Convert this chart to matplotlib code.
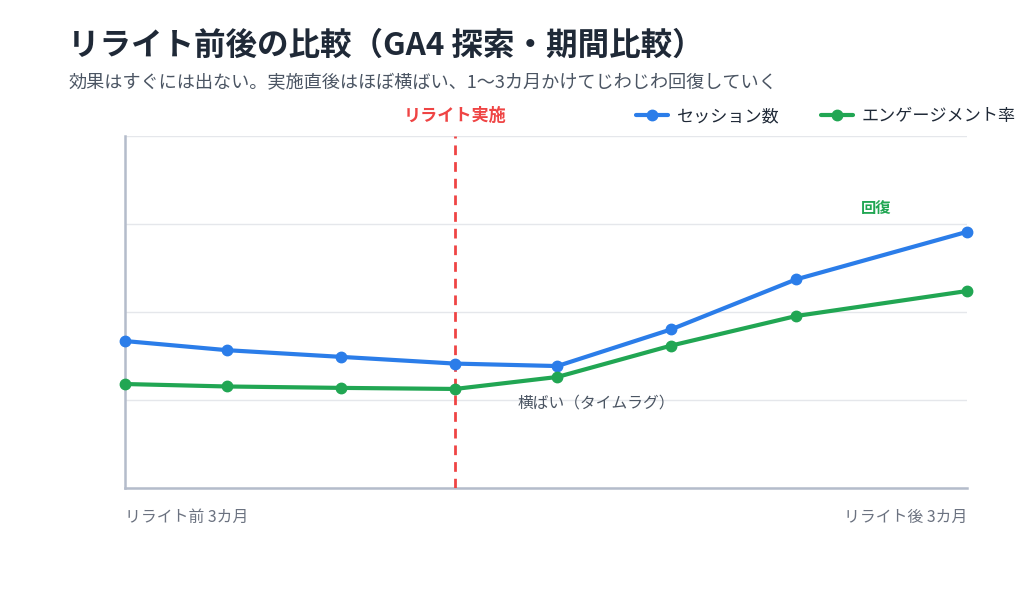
import matplotlib
matplotlib.use("Agg")
import matplotlib.pyplot as plt
import matplotlib.transforms as mtrans

plt.rcParams['font.family'] = ['Noto Sans CJK JP', 'DejaVu Sans']

# ---- data ----
x_pos = [0, 12.15, 25.7, 39.2, 51.35, 64.85, 79.7, 100]
sessions = [41.8, 39.2, 37.3, 35.4, 34.7, 45.1, 59.3, 72.8]
engagement = [29.6, 28.9, 28.5, 28.2, 31.6, 40.5, 48.9, 56.0]
series_names = ["セッション数", "エンゲージメント率"]
event_index = 3
event_label = "リライト実施"
x_labels = ["リライト前 3カ月", "リライト後 3カ月"]
title = "リライト前後の比較（GA4 探索・期間比較）"
subtitle = "効果はすぐには出ない。実施直後はほぼ横ばい、1〜3カ月かけてじわじわ回復していく"
note_flat = "横ばい（タイムラグ）"
note_recover = "回復"

BLUE = "#2b7de9"
GREEN = "#21a653"
RED = "#ef4444"

W, H = 1024, 591
fig = plt.figure(figsize=(W / 100, H / 100), dpi=100)
fig.patch.set_facecolor("white")

def fx(px):
    return px / W

def fy(py):
    return 1 - py / H

ax = fig.add_axes([fx(125), fy(488.3), fx(967) - fx(125), fy(136) - fy(488.3)])
ax.set_xlim(0, 100)
ax.set_ylim(0, 100)

ax.set_yticks([0, 25, 50, 75, 100])
ax.set_xticks([])
ax.tick_params(axis="y", length=0, labelleft=False)
ax.grid(axis="y", color="#e5e7eb", linewidth=1.0)
ax.set_axisbelow(True)
for s in ["top", "right"]:
    ax.spines[s].set_visible(False)
for s in ["left", "bottom"]:
    ax.spines[s].set_color("#b4bccb")
    ax.spines[s].set_linewidth(1.8)

l1, = ax.plot(x_pos, sessions, color=BLUE, lw=3.0, marker="o", ms=7.5,
              clip_on=False, zorder=4, solid_capstyle="round")
l2, = ax.plot(x_pos, engagement, color=GREEN, lw=3.0, marker="o", ms=7.5,
              clip_on=False, zorder=4, solid_capstyle="round")

ax.axvline(x_pos[event_index], color=RED, lw=2.0, ls=(0, (3.5, 2.5)), zorder=3)

ax.text(89.2, 79.6, note_recover, color=GREEN, fontsize=11, fontweight="bold",
        ha="center", va="center")
ax.text(46.6, 24.2, note_flat, color="#4b5563", fontsize=11.3,
        ha="left", va="center")

trans = mtrans.blended_transform_factory(ax.transData, fig.transFigure)
ax.text(0, fy(517), x_labels[0], transform=trans, color="#6b7280",
        fontsize=11.4, ha="left", va="center")
ax.text(100, fy(517), x_labels[1], transform=trans, color="#6b7280",
        fontsize=11.4, ha="right", va="center")
ax.text(x_pos[event_index], fy(116), event_label, transform=trans, color=RED,
        fontsize=12.3, fontweight="bold", ha="center", va="center")

fig.text(fx(68), fy(46), title, fontsize=22.7, fontweight="bold", color="#1f2937",
         ha="left", va="center")
fig.text(fx(68), fy(83), subtitle, fontsize=13.1, color="#4b5563",
         ha="left", va="center")

leg = fig.legend([l1, l2], series_names, loc="center left",
                 bbox_to_anchor=(fx(636), fy(116)), bbox_transform=fig.transFigure,
                 ncol=2, frameon=False, fontsize=12.3, borderpad=0, borderaxespad=0,
                 handlelength=1.9, handletextpad=0.5, columnspacing=2.4)
for t in leg.get_texts():
    t.set_color("#1f2937")

fig.savefig("out.png", dpi=100, facecolor="white")
